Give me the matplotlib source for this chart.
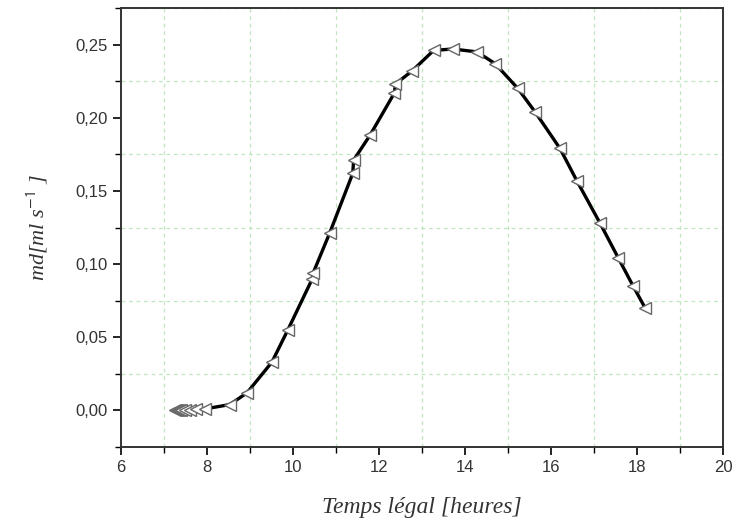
import numpy as np
import matplotlib.pyplot as plt
from matplotlib.ticker import MultipleLocator, FuncFormatter

# data
temps = [7.25, 7.3, 7.35, 7.4, 7.5, 7.6, 7.75, 7.95,
         8.53, 8.93, 9.51, 9.88, 10.45, 10.47, 10.85, 11.39, 11.41,
         11.79, 12.36, 12.38, 12.77, 13.27, 13.72, 14.28, 14.70,
         15.23, 15.63, 16.21, 16.60, 17.14, 17.56, 17.91, 18.19]
md = [0.0, 0.0, 0.0, 0.0, 0.0, 0.0005, 0.001, 0.001,
      0.004, 0.012, 0.033, 0.055, 0.090, 0.094, 0.121, 0.162, 0.171,
      0.188, 0.217, 0.223, 0.232, 0.246, 0.247, 0.245, 0.237,
      0.220, 0.204, 0.179, 0.157, 0.128, 0.1045, 0.085, 0.070]

plt.rcParams['mathtext.fontset'] = 'stix'

fig = plt.figure(figsize=(7.36, 5.27), dpi=100)
ax = fig.add_axes([0.1644, 0.1518, 0.8179, 0.833])

ax.plot(temps, md, color='black', lw=2.4, zorder=3)
ax.plot(temps, md, ls='none', marker='<', ms=9, mfc='white',
        mec='#666666', mew=1.0, zorder=4)

ax.set_xlim(6, 20)
ax.set_ylim(-0.025, 0.275)
ax.xaxis.set_major_locator(MultipleLocator(2))
ax.xaxis.set_minor_locator(MultipleLocator(1))
ax.yaxis.set_major_locator(MultipleLocator(0.05))
ax.yaxis.set_minor_locator(MultipleLocator(0.025))
ax.yaxis.set_major_formatter(FuncFormatter(lambda v, p: ('%.2f' % v).replace('.', ',')))

# light green dashed grid on the minor ticks only
ax.grid(which='minor', color='#bfe6bf', ls=(0, (3, 3)), lw=0.9)
ax.grid(which='major', visible=False)

ax.tick_params(which='major', direction='out', length=6, width=1.2,
               labelsize=12, labelcolor='#333333', top=False, right=False)
ax.tick_params(which='minor', direction='out', length=4, width=1.0,
               top=False, right=False)
for lab in ax.get_xticklabels() + ax.get_yticklabels():
    lab.set_family('Liberation Sans')
for s in ax.spines.values():
    s.set_linewidth(1.4)
    s.set_color('#333333')

ax.set_xlabel('Temps légal [heures]', family='Liberation Serif', style='italic',
              fontsize=17, color='#333333', labelpad=16)
ax.set_ylabel(r'md[ml s$^{\mathsf{-1}}$ ]', family='Liberation Serif', style='italic',
              fontsize=16, color='#333333', labelpad=18)

fig.savefig('out.png', dpi=100)
